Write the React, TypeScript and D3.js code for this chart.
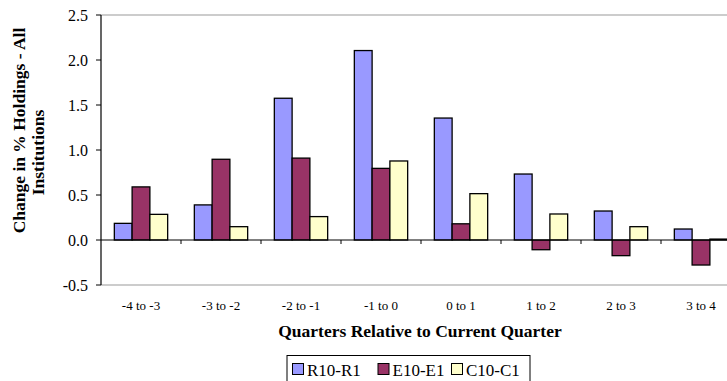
import React from "react";
import * as d3 from "d3";

const categories = ["-4 to -3", "-3 to -2", "-2 to -1", "-1 to 0", "0 to 1", "1 to 2", "2 to 3", "3 to 4"];
const seriesNames = ["R10-R1", "E10-E1", "C10-C1"];
const r10r1 = [0.185, 0.39, 1.575, 2.105, 1.355, 0.733, 0.322, 0.122];
const e10e1 = [0.59, 0.897, 0.91, 0.796, 0.18, -0.108, -0.174, -0.278];
const c10c1 = [0.285, 0.148, 0.26, 0.878, 0.515, 0.289, 0.148, 0.01];
const yTicks = [-0.5, 0.0, 0.5, 1.0, 1.5, 2.0, 2.5];
const colors = ["#9999FF", "#993366", "#FFFFCC"];

const W = 727;
const H = 381;
const FONT = "'Liberation Serif', 'Times New Roman', serif";

export default function App() {
  const left = 101;
  const bandW = 80;
  const right = left + bandW * categories.length;
  const top = 15;
  const bottom = 285;
  const seriesVals = [r10r1, e10e1, c10c1];

  const x = d3.scaleBand<string>().domain(categories).range([left, right]).paddingInner(0).paddingOuter(0);
  const barW = x.bandwidth() / 4.5;
  const xs = d3
    .scaleBand<string>()
    .domain(seriesNames)
    .range([(x.bandwidth() - 3 * barW) / 2, (x.bandwidth() + 3 * barW) / 2])
    .padding(0);
  const y = d3.scaleLinear().domain([-0.5, 2.5]).range([bottom, top]);
  const y0 = y(0);

  const legendX = [292.5, 378, 451.5];

  return (
    <svg width={W} height={H} style={{ position: "absolute", left: 0, top: 0, background: "#fff" }} fontFamily={FONT}>
      {/* plot area border */}
      <line x1={left} x2={W} y1={top} y2={top} stroke="#999" strokeWidth={1.2} />
      <line x1={left} x2={W} y1={bottom} y2={bottom} stroke="#999" strokeWidth={1.2} />

      {/* bars */}
      {categories.map((c, i) =>
        seriesNames.map((s, k) => {
          const v = seriesVals[k][i];
          const bx = (x(c) as number) + (xs(s) as number);
          const yy = Math.min(y(v), y0);
          const hh = Math.abs(y(v) - y0);
          return (
            <rect key={c + s} x={bx} y={yy} width={xs.bandwidth()} height={hh} fill={colors[k]} stroke="#000" strokeWidth={1.3} />
          );
        })
      )}

      {/* zero line & category ticks */}
      <line x1={left} x2={W} y1={y0} y2={y0} stroke="#000" strokeWidth={1} />
      {categories.slice(1).map((c) => (
        <line key={"t" + c} x1={x(c) as number} x2={x(c) as number} y1={y0} y2={y0 + 4} stroke="#000" strokeWidth={1} />
      ))}

      {/* y axis */}
      <line x1={left} x2={left} y1={top} y2={bottom} stroke="#000" strokeWidth={1.2} />
      {yTicks.map((t) => (
        <g key={"y" + t}>
          <line x1={left - 5} x2={left} y1={y(t)} y2={y(t)} stroke="#000" strokeWidth={1} />
          <text x={88} y={y(t) + 5.5} textAnchor="end" fontSize={16}>
            {t.toFixed(1)}
          </text>
        </g>
      ))}

      {/* x tick labels */}
      {categories.map((c) => (
        <text key={"xl" + c} x={(x(c) as number) + x.bandwidth() / 2} y={310} textAnchor="middle" fontSize={13}>
          {c}
        </text>
      ))}

      {/* axis titles */}
      <text x={420} y={337} textAnchor="middle" fontSize={17.5} fontWeight="bold">
        Quarters Relative to Current Quarter
      </text>
      <text transform="translate(25,130.5) rotate(-90)" textAnchor="middle" fontSize={17.5} fontWeight="bold">
        Change in % Holdings - All
      </text>
      <text transform="translate(44,152.5) rotate(-90)" textAnchor="middle" fontSize={17.5} fontWeight="bold">
        Institutions
      </text>

      {/* legend */}
      <rect x={287} y={355.5} width={243} height={40} fill="#fff" stroke="#000" strokeWidth={1} />
      {seriesNames.map((s, k) => {
        const lx = legendX[k];
        return (
          <g key={"lg" + s}>
            <rect x={lx} y={363.5} width={11} height={11} fill={colors[k]} stroke="#000" strokeWidth={1} />
            <text x={lx + 14.5} y={376} fontSize={17}>
              {s}
            </text>
          </g>
        );
      })}
    </svg>
  );
}
